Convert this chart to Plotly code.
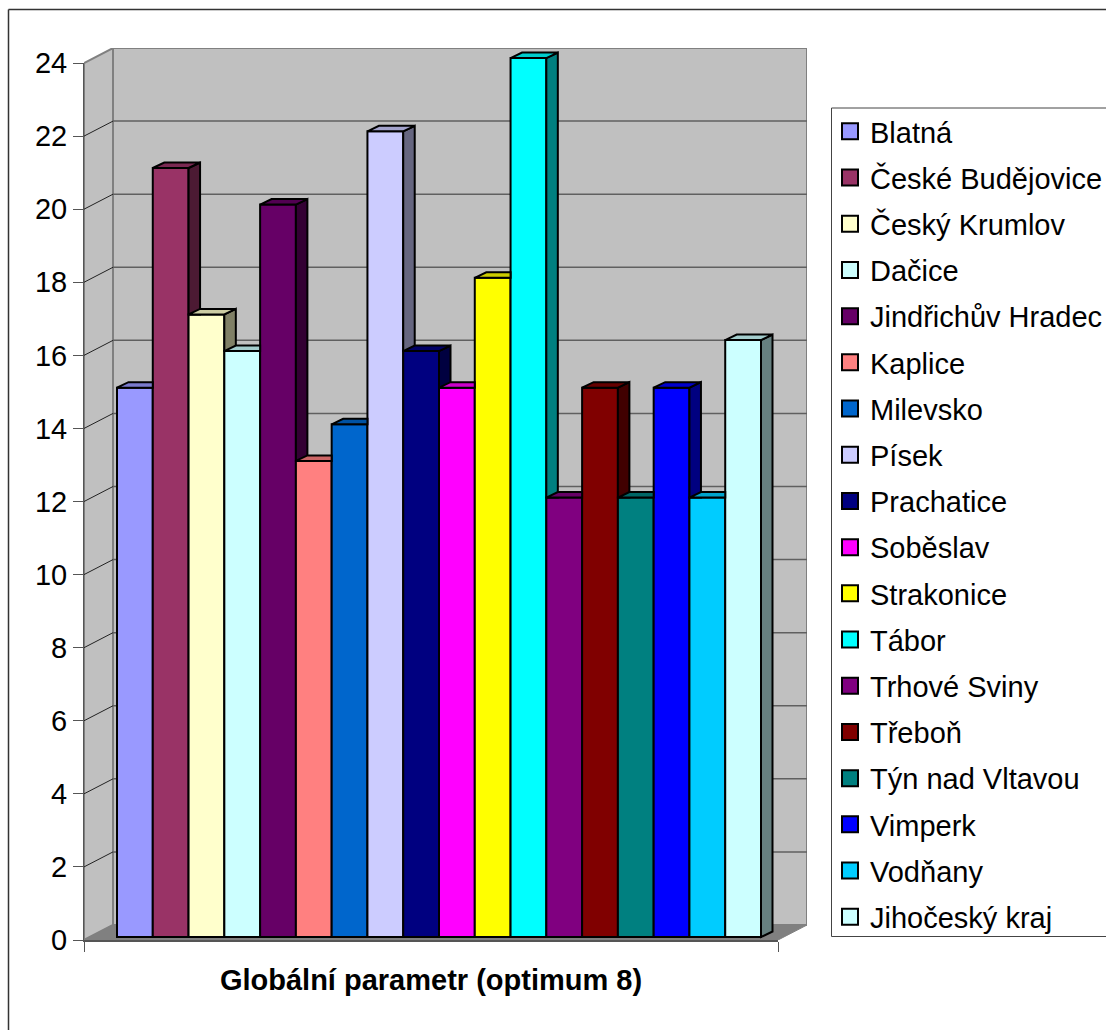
import plotly.graph_objects as go

towns = ["Blatná", "České Budějovice", "Český Krumlov", "Dačice", "Jindřichův Hradec", "Kaplice",
         "Milevsko", "Písek", "Prachatice", "Soběslav", "Strakonice", "Tábor", "Trhové Sviny",
         "Třeboň", "Týn nad Vltavou", "Vimperk", "Vodňany", "Jihočeský kraj"]
values = [15, 21, 17, 16, 20, 13, 14, 22, 16, 15, 18, 24, 12, 15, 12, 15, 12, 16.3]
colors = ["#9999FF", "#993366", "#FFFFCC", "#CCFFFF", "#660066", "#FF8080", "#0066CC", "#CCCCFF",
          "#000080", "#FF00FF", "#FFFF00", "#00FFFF", "#800080", "#800000", "#008080", "#0000FF",
          "#00CCFF", "#CCFFFF"]
y_ticks = list(range(0, 25, 2))
x_title = "Globální parametr (optimum 8)"

# page geometry (the body margin is removed, so paper pixels are window pixels)
W, H = 1106, 1030
FONT = "Liberation Sans, Arial, sans-serif"
FS = 29
PX_X = 644 / 18          # px per bar slot
PX_Y = 36.54             # px per value unit on the front axis
PX_BAR = 36.62           # px per value unit on the bars
BAR_L, BAR_0 = 117, 937  # left edge of the bars, baseline of the bars
AX_L, AX_R, AX_0 = 84, 778, 940   # front edge of the floor
WALL_DX, WALL_DY = 29, 15
BAR_DX, BAR_DY = 11.5 / PX_X, 5.5 / PX_BAR


def data_x(px):
    return -0.5 + (px - BAR_L) / PX_X


def data_y(py):
    return (BAR_0 - py) / PX_BAR


def frac_x(px):
    return px / W


def frac_y(py):
    return 1 - py / H


def shade(hex_color, k):
    r, g, b = (int(hex_color[i:i + 2], 16) for i in (1, 3, 5))
    return f"rgb({round(r * k)},{round(g * k)},{round(b * k)})"


def poly(x0, y0, x1, y1, x2, y2, x3, y3):
    return f"M{x0},{y0}L{x1},{y1}L{x2},{y2}L{x3},{y3}Z"


fig = go.Figure()

# front faces
for i, (name, v, c) in enumerate(zip(towns, values, colors)):
    fig.add_trace(go.Bar(x=[i], y=[v], width=1, name=name, legendgroup=name, showlegend=False,
                         marker=dict(color=c, line=dict(color="black", width=2)),
                         xaxis="x", yaxis="y"))

# side and top faces, painted left to right
for i, (name, v, c) in enumerate(zip(towns, values, colors)):
    left, right = i - 0.5, i + 0.5
    nxt = values[i + 1] if i + 1 < len(values) else None
    style = dict(mode="lines", fill="toself", line=dict(color="black", width=2),
                 legendgroup=name, showlegend=False, hoverinfo="skip", xaxis="x", yaxis="y")
    if nxt is None:
        fig.add_trace(go.Scatter(x=[right, right + BAR_DX, right + BAR_DX, right, right],
                                 y=[v, v + BAR_DY, BAR_DY, 0, v],
                                 fillcolor=shade(c, 0.5), **style))
    elif nxt < v:
        fig.add_trace(go.Scatter(x=[right, right + BAR_DX, right + BAR_DX, right, right],
                                 y=[v, v + BAR_DY, nxt, nxt, v],
                                 fillcolor=shade(c, 0.5), **style))
    if nxt is not None and nxt > v:
        tx = [left, right, right, left + BAR_DX, left]
    else:
        tx = [left, right, right + BAR_DX, left + BAR_DX, left]
    ty = [v, v, v + BAR_DY, v + BAR_DY, v]
    fig.add_trace(go.Scatter(x=tx, y=ty, fillcolor=shade(c, 0.8), **style))

# legend entries, and the axes of the front plane
for name, c in zip(towns, colors):
    fig.add_trace(go.Scatter(x=[None], y=[None], name=name, legendgroup=name, mode="markers",
                             marker=dict(symbol="square", size=16, color=c,
                                         line=dict(color="black", width=2)),
                             xaxis="x2", yaxis="y2"))

# walls and floor
xl, xr = data_x(AX_L), data_x(AX_R)
xbl, xbr = data_x(AX_L + WALL_DX), data_x(AX_R + WALL_DX)
y0f, y0b = data_y(AX_0), data_y(AX_0 - WALL_DY)
ytf = data_y(AX_0 - 24 * PX_Y)
ytb = data_y(AX_0 - 24 * PX_Y - WALL_DY)
shapes = [
    dict(type="path", xref="x", yref="y", layer="below", fillcolor="#C0C0C0",
         line=dict(color="#808080", width=2), path=poly(xbl, y0b, xbr, y0b, xbr, ytb, xbl, ytb)),
    dict(type="path", xref="x", yref="y", layer="below", fillcolor="#C0C0C0",
         line=dict(color="#808080", width=2), path=poly(xl, y0f, xbl, y0b, xbl, ytb, xl, ytf)),
    dict(type="path", xref="x", yref="y", layer="below", fillcolor="#808080",
         line=dict(color="#808080", width=1), path=poly(xl, y0f, xr, y0f, xbr, y0b, xbl, y0b)),
]
for t in y_ticks[1:-1]:
    yf = data_y(AX_0 - t * PX_Y)
    yb = data_y(AX_0 - t * PX_Y - WALL_DY)
    shapes.append(dict(type="line", xref="x", yref="y", layer="below", x0=xl, y0=yf, x1=xbl, y1=yb,
                       line=dict(color="#222222", width=1)))
    shapes.append(dict(type="line", xref="x", yref="y", layer="below", x0=xbl, y0=yb, x1=xbr, y1=yb,
                       line=dict(color="#606060", width=1.5)))
# outer chart frame: only its top and left edge are inside the window
shapes.append(dict(type="line", xref="paper", yref="paper", x0=frac_x(8.5), x1=1, y0=frac_y(9.5), y1=frac_y(9.5),
                   line=dict(color="#333333", width=1.5)))
shapes.append(dict(type="line", xref="paper", yref="paper", x0=frac_x(8.5), x1=frac_x(8.5), y0=0, y1=frac_y(9.5),
                   line=dict(color="#333333", width=1.5)))
# legend box runs past the right edge of the window
shapes.append(dict(type="rect", xref="paper", yref="paper", x0=frac_x(831.5), x1=1.01, y0=frac_y(936.5), y1=frac_y(108),
                   fillcolor="white", line=dict(color="#444444", width=1)))

hidden = dict(visible=False, fixedrange=True)
fig.update_layout(
    width=W, height=H,
    margin=dict(l=0, r=0, t=0, b=0, autoexpand=False),
    paper_bgcolor="white", plot_bgcolor="rgba(0,0,0,0)",
    barmode="overlay",
    font=dict(family=FONT, size=FS, color="black"),
    shapes=shapes,
    xaxis=dict(domain=[frac_x(AX_L), frac_x(AX_R + WALL_DX)], range=[xl, xbr], anchor="y", **hidden),
    yaxis=dict(domain=[frac_y(AX_0), frac_y(AX_0 - 24 * PX_Y - WALL_DY)], range=[y0f, ytb], anchor="x", **hidden),
    xaxis2=dict(domain=[frac_x(AX_L), frac_x(AX_R)], range=[0, 1], anchor="y2", showgrid=False, zeroline=False,
                tickmode="array", tickvals=[0, 1], ticktext=["", ""], ticks="outside", ticklen=10,
                tickcolor="#555555", showline=True, linecolor="#555555", linewidth=2, fixedrange=True,
                title=dict(text=f"<b>{x_title}</b>", standoff=13, font=dict(family=FONT, size=FS, color="black"))),
    yaxis2=dict(domain=[frac_y(AX_0), frac_y(AX_0 - 24 * PX_Y)], range=[0, 24], anchor="x2", showgrid=False,
                zeroline=False, tickmode="array", tickvals=y_ticks, ticks="outside", ticklen=10,
                tickcolor="#555555", showline=True, linecolor="#555555", linewidth=1, fixedrange=True,
                tickfont=dict(family=FONT, size=FS, color="black")),
    legend=dict(x=frac_x(830), xanchor="left", y=frac_y(106), yanchor="top",
                bgcolor="rgba(0,0,0,0)", borderwidth=0,
                tracegroupgap=5.5,
                font=dict(family=FONT, size=FS, color="black")),
)

fig.write_html("out.html", default_width=f"{W}px", default_height=f"{H}px",
               config=dict(displayModeBar=False),
               post_script="document.body.style.margin='0';document.documentElement.style.overflow='hidden';")
